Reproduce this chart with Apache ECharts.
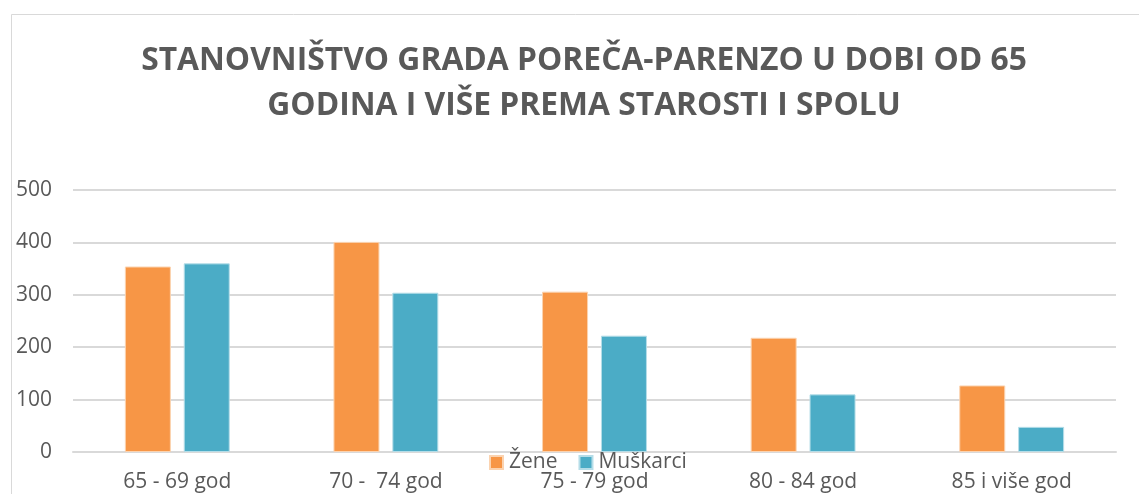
<!DOCTYPE html>
<html><head><meta charset="utf-8">
<script src="https://cdn.jsdelivr.net/npm/echarts@6/dist/echarts.min.js"></script>
<style>html,body{margin:0;padding:0;background:#fff}#c{width:1139px;height:494px}</style>
</head><body><div id="c"></div>
<script>
const titleText = 'STANOVNIŠTVO GRADA POREČA-PARENZO U DOBI OD 65\nGODINA I VIŠE PREMA STAROSTI I SPOLU';
const categories = ['65 - 69 god', '70 -  74 god', '75 - 79 god', '80 - 84 god', '85 i više god'];
const zene = [354, 401, 306, 218, 127];
const muskarci = [360, 304, 222, 110, 48];
const yTicks = [0, 100, 200, 300, 400, 500];

const chart = echarts.init(document.getElementById('c'));
const font = '"Open Sans", sans-serif';
chart.setOption({
  animation: false,
  backgroundColor: '#fff',
  graphic: [{type:'rect', shape:{x:11.5,y:14.5,width:1300,height:600}, style:{fill:'none', stroke:'#d9d9d9', lineWidth:1}, silent:true, z:-1}],
  title: {
    text: titleText, left: 579, top: 33, textAlign: 'center',
    textStyle: {fontFamily: font, fontWeight: 'bold', fontSize: 31.8, color: '#595959', lineHeight: 45}
  },
  legend: {
    data: ['Žene', 'Muškarci'], left: 484, top: 447, itemWidth: 13, itemHeight: 13, itemGap: 21,
    icon: 'rect',
    textStyle: {fontFamily: font, fontSize: 21, color: '#595959', padding: [0,0,0,1]}
  },
  grid: {left: 73, right: 23, top: 190, bottom: 42, containLabel: false, outerBoundsMode: 'none'},
  xAxis: {
    type: 'category', data: categories,
    axisLine: {lineStyle: {color: '#d9d9d9', width: 2}}, axisTick: {show: false},
    axisLabel: {fontFamily: font, fontSize: 21, color: '#595959', margin: 20}
  },
  yAxis: {
    type: 'value', min: yTicks[0], max: yTicks[yTicks.length-1], interval: 100,
    axisLine: {show: false}, axisTick: {show: false},
    splitLine: {lineStyle: {color: '#d9d9d9', width: 2}},
    axisLabel: {fontFamily: font, fontSize: 21, color: '#595959', margin: 21}
  },
  series: [
    {name: 'Žene', type: 'bar', data: zene, barWidth: 46, barGap: '28%', itemStyle: {color: '#f79646', borderColor: '#fbd3b0', borderWidth: 1}},
    {name: 'Muškarci', type: 'bar', data: muskarci, barWidth: 46, itemStyle: {color: '#4bacc6', borderColor: '#b5dde8', borderWidth: 1}}
  ]
});
</script></body></html>
